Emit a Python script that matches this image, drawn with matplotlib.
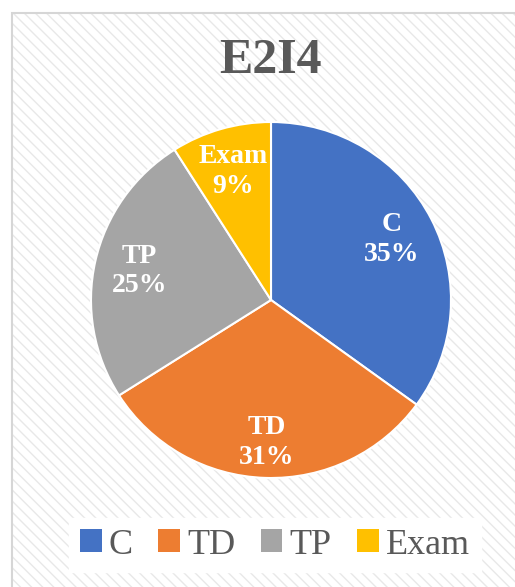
import matplotlib.pyplot as plt
from matplotlib.patches import Rectangle

# data
categories = ['C', 'TD', 'TP', 'Exam']
values = [35, 31, 25, 9]
colors = ['#4472C4', '#ED7D31', '#A5A5A5', '#FFC000']
title = 'E2I4'

plt.rcParams['font.family'] = ['Liberation Serif', 'DejaVu Serif']

fig = plt.figure(figsize=(5.15, 5.87), dpi=100)
fig.patch.set_facecolor('white')

# chart area background: light diagonal texture + thin grey border
W, H = 515, 587
x0, y0 = 12 / W, 0.0
bg = Rectangle((x0, y0), 1.2, 1 - 13 / H, transform=fig.transFigure,
               facecolor='white', edgecolor='#e8e8e8', hatch='\\\\\\', linewidth=0, zorder=-3)
border = Rectangle((x0, y0 - 0.01), 1.2, 1 - 13 / H + 0.01, transform=fig.transFigure,
                   facecolor='none', edgecolor='#d6d6d6', linewidth=1.5, zorder=-2)
fig.patches.extend([bg, border])

ax = fig.add_axes([91 / W, 1 - 478 / H, 360 / W, 356 / H])
ax.patch.set_visible(False)

labels = ['%s\n%d%%' % (c, v) for c, v in zip(categories, values)]
wedges, texts = ax.pie(values, colors=colors, startangle=90, counterclock=False,
                       labels=labels, labeldistance=0.75,
                       wedgeprops=dict(edgecolor='white', linewidth=1.5),
                       textprops=dict(color='white', fontsize=20, fontweight='bold',
                                      ha='center', va='center', linespacing=1.25))
for t in texts:
    t.set_horizontalalignment('center')
texts[1].set_position((texts[1].get_position()[0], -0.8))
ax.set_aspect('auto')
ax.set_xlim(-1, 1)
ax.set_ylim(-1, 1)

fig.text(270 / W, 1 - 61 / H, title, ha='center', va='center',
         fontsize=36, fontweight='bold', color='#595959')

leg = fig.legend(wedges, categories, loc='center', bbox_to_anchor=(275 / W, 1 - 545 / H),
                 ncol=4, fontsize=26, frameon=True, fancybox=False,
                 handlelength=0.6, handleheight=0.6, handletextpad=0.2,
                 columnspacing=0.7, borderpad=0.3)
leg.get_frame().set_facecolor('white')
leg.get_frame().set_edgecolor('white')
leg.get_frame().set_alpha(1)
for h in leg.legend_handles:
    h.set_edgecolor('none')
for t in leg.get_texts():
    t.set_color('#595959')

fig.savefig('out.png', dpi=100)
